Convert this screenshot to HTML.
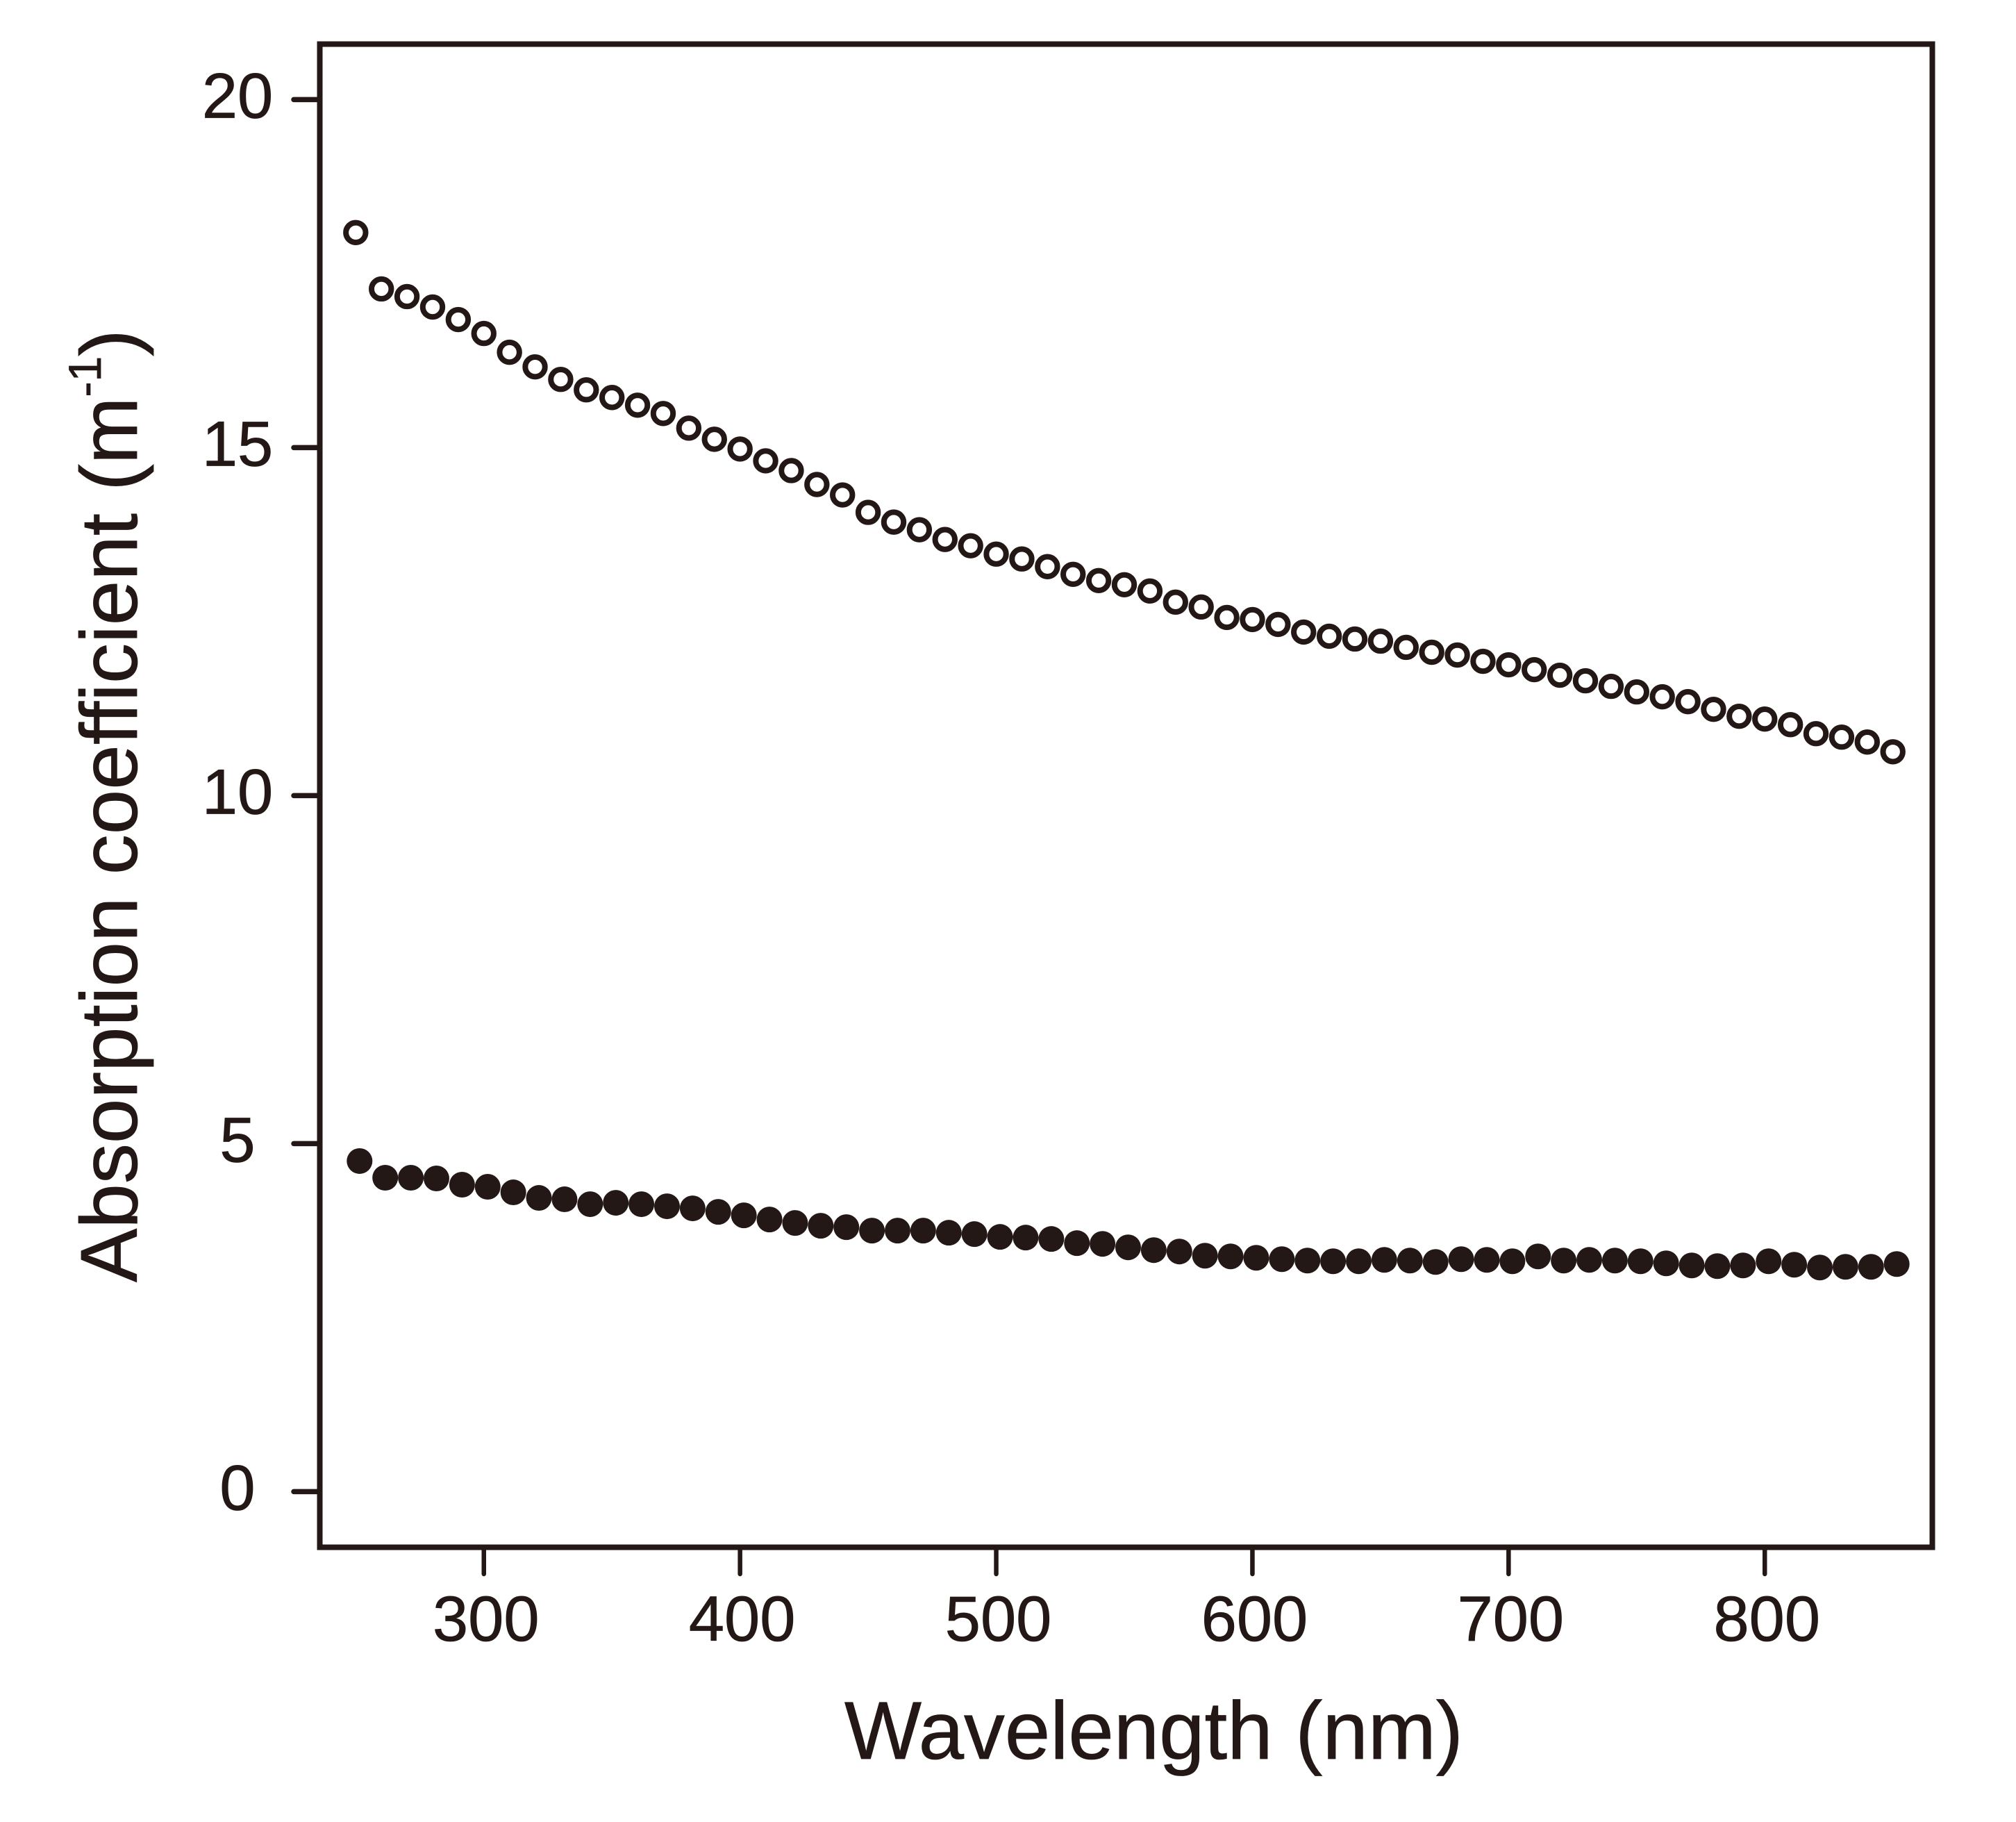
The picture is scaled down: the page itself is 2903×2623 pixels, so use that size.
<!DOCTYPE html>
<html lang="en">
<head>
<meta charset="utf-8">
<title>Absorption coefficient vs wavelength</title>
<style>
  html, body { margin: 0; padding: 0; background: #ffffff; }
  svg { display: block; }
  text { font-family: "Liberation Sans", Arial, sans-serif; fill: #231815; stroke: #231815; stroke-width: 0.8px; }
</style>
</head>
<body>
<svg id="chart" xmlns="http://www.w3.org/2000/svg" width="2903" height="2623" viewBox="0 0 2903 2623">
  <rect x="0" y="0" width="2903" height="2623" fill="#ffffff"/>
  <g id="ticks"></g>
  <rect x="460.5" y="63.5" width="2322" height="2164" fill="none" stroke="#231815" stroke-width="8"/>
  <g id="series-open"></g>
  <g id="series-filled"></g>
  <text x="1216" y="2532" font-size="117.6">Wavelength (nm)</text>
  <text transform="translate(197 1846) rotate(-90)" font-size="116">Absorption coefficient (m<tspan font-size="66" dy="-52">-1</tspan><tspan font-size="116" dy="52">)</tspan></text>
</svg>
<script>
const wavelengths = [250,260,270,280,290,300,310,320,330,340,350,360,370,380,390,400,410,420,430,440,450,460,470,480,490,500,510,520,530,540,550,560,570,580,590,600,610,620,630,640,650,660,670,680,690,700,710,720,730,740,750,760,770,780,790,800,810,820,830,840,850];
const openValues = [18.09,17.28,17.17,17.02,16.84,16.64,16.37,16.16,15.98,15.83,15.72,15.61,15.49,15.28,15.12,14.98,14.81,14.67,14.47,14.32,14.07,13.93,13.82,13.68,13.59,13.47,13.40,13.29,13.18,13.09,13.03,12.94,12.78,12.71,12.56,12.53,12.46,12.35,12.29,12.25,12.22,12.13,12.06,12.02,11.93,11.88,11.81,11.73,11.65,11.57,11.49,11.42,11.35,11.24,11.14,11.10,11.02,10.89,10.84,10.77,10.63];
const filledValues = [4.75,4.51,4.51,4.50,4.41,4.38,4.30,4.22,4.20,4.13,4.15,4.13,4.10,4.07,4.02,3.97,3.91,3.86,3.82,3.80,3.75,3.75,3.75,3.72,3.70,3.66,3.65,3.63,3.57,3.56,3.51,3.47,3.45,3.39,3.38,3.36,3.34,3.32,3.31,3.31,3.33,3.32,3.30,3.34,3.33,3.31,3.38,3.32,3.33,3.32,3.31,3.28,3.25,3.24,3.25,3.31,3.26,3.22,3.23,3.23,3.27];
const xTickValues = [300,400,500,600,700,800];
const yTickValues = [0,5,10,15,20];

const INK = '#231815';
const SVG_NS = 'http://www.w3.org/2000/svg';
const FILLED_X_SHIFT = 5.5;

function xScale(w) { return 512.3 + (w - 250) * 3.689; }
function yScale(v) { return 2147.4 - v * 100.2; }

function make(tag, parent, attrs) {
  const el = document.createElementNS(SVG_NS, tag);
  for (const k in attrs) el.setAttribute(k, attrs[k]);
  parent.appendChild(el);
  return el;
}

const ticksGroup = document.getElementById('ticks');
xTickValues.forEach(function (t) {
  const x = xScale(t);
  const tick = make('line', ticksGroup, { x1: x, x2: x, y1: 2230, y2: 2266, stroke: INK, 'stroke-width': 6.5, 'stroke-linecap': 'round' });
  
  
  const label = make('text', ticksGroup, { x: x + 3, y: 2362, 'font-size': 92, 'text-anchor': 'middle' });
  label.textContent = String(t);
  
  
});
yTickValues.forEach(function (t) {
  const y = yScale(t);
  const tick = make('line', ticksGroup, { x1: 423, x2: 460, y1: y, y2: y, stroke: INK, 'stroke-width': 7.5, 'stroke-linecap': 'round' });
  
  
  const label = make('text', ticksGroup, { x: 342, y: y + 26, 'font-size': 92, 'text-anchor': 'middle' });
  label.textContent = String(t);
  
  
});

const openGroup = document.getElementById('series-open');
openValues.forEach(function (v, i) {
  const c = make('circle', openGroup, { cx: xScale(wavelengths[i]), cy: yScale(v), r: 14.2, fill: '#ffffff', stroke: INK, 'stroke-width': 8 });
  
  
});

const filledGroup = document.getElementById('series-filled');
filledValues.forEach(function (v, i) {
  const c = make('circle', filledGroup, { cx: xScale(wavelengths[i]) + FILLED_X_SHIFT, cy: yScale(v), r: 18.5, fill: INK });
  
  
});
</script>
</body>
</html>
